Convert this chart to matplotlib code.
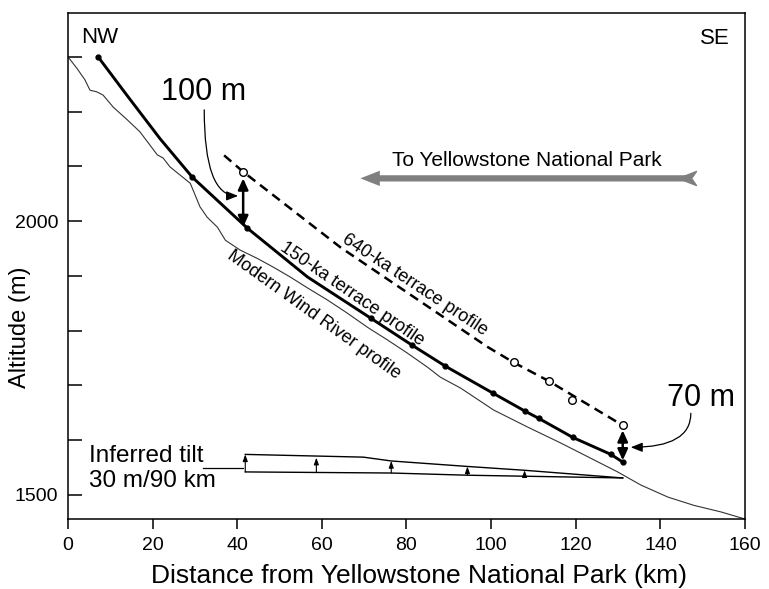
import numpy as np
import matplotlib.pyplot as plt

plt.rcParams['font.family'] = ['Liberation Sans', 'DejaVu Sans']

# modern Wind River long profile (distance km, altitude m)
river_km = [0.0, 2.1, 4.0, 5.2, 6.8, 8.3, 10.7, 14.0, 17.0, 21.1, 22.5, 24.1,
            28.9, 31.2, 32.9, 35.3, 37.2, 40.7, 44.7, 48.5, 52.5, 56.6, 61.3,
            66.0, 70.8, 75.5, 80.2, 85.0, 88.0, 92.8, 100.6, 108.6, 116.4,
            124.3, 129.9, 135.4, 141.8, 147.9, 154.3, 160.0]
river_alt = [2300, 2279, 2258, 2239, 2236, 2230, 2208, 2185, 2163, 2121, 2115,
             2099, 2069, 2026, 2007, 1989, 1965, 1947, 1932, 1916, 1898, 1878,
             1856, 1832, 1806, 1783, 1759, 1733, 1715, 1695, 1655, 1624, 1595,
             1564, 1542, 1518, 1496, 1481, 1469, 1456]

# 150-ka terrace profile and its sample sites
ka150_km = [7.1, 14.0, 21.8, 29.4, 42.4, 56.6, 71.5, 81.2, 89.2, 100.4,
            108.0, 111.2, 119.3, 128.3, 131.1]
ka150_alt = [2300, 2229, 2150, 2080, 1987, 1898, 1823, 1774, 1735, 1686,
             1653, 1640, 1605, 1574, 1560]
ka150_site_km = [7.1, 29.4, 42.4, 71.5, 81.2, 89.2, 100.4, 108.0, 111.2,
                 119.3, 128.3, 131.1]
ka150_site_alt = [2300, 2080, 1987, 1823, 1774, 1735, 1686, 1653, 1640,
                  1605, 1574, 1560]

# 640-ka terrace profile and its sample sites
ka640_km = [36.9, 41.4, 64.4, 99.2, 105.3, 113.6, 131.1]
ka640_alt = [2120, 2090, 1952, 1770, 1742, 1708, 1627]
ka640_site_km = [41.4, 105.3, 113.6, 119.1, 131.1]
ka640_site_alt = [2090, 1742, 1708, 1673, 1627]

# inferred tilt sketch
tilt_top_km = [41.9, 69.8, 76.4, 94.4, 107.9, 131.1]
tilt_top_alt = [1574, 1569, 1562, 1552, 1545, 1531]
tilt_base_km = [41.9, 76.4, 94.4, 131.1]
tilt_base_alt = [1542, 1540, 1536, 1531]
tilt_arrow_km = [41.9, 58.7, 76.4, 94.4, 107.9]
tilt_arrow_base = [1542, 1541, 1540, 1537, 1535]
tilt_arrow_top = [1574, 1568, 1562, 1552, 1545]

fig = plt.figure(figsize=(7.69, 5.89), dpi=100)
ax = fig.add_axes([0.0884, 0.1188, 0.8804, 0.8592])

ax.plot(river_km, river_alt, color='#333333', lw=0.8)
ax.plot(ka150_km, ka150_alt, color='black', lw=2.1)
ax.plot(ka150_site_km, ka150_site_alt, 'o', color='black', ms=3.5, ls='none')
ax.plot(ka640_km, ka640_alt, color='black', lw=1.8, ls=(0, (3.8, 2.4)))
ax.plot(ka640_site_km, ka640_site_alt, 'o', mfc='white', mec='black', mew=1.0,
        ms=5.5, ls='none')

# tilt sketch
ax.plot(tilt_top_km, tilt_top_alt, color='black', lw=1.0)
ax.plot(tilt_base_km, tilt_base_alt, color='black', lw=1.0)
for x, b, t in zip(tilt_arrow_km, tilt_arrow_base, tilt_arrow_top):
    ax.annotate('', xy=(x, t), xytext=(x, b),
                arrowprops=dict(arrowstyle='-|>,head_length=0.5,head_width=0.18',
                                lw=0.8, color='black', shrinkA=0, shrinkB=0,
                                mutation_scale=8))
ax.plot([32.0, 41.4], [1549, 1549], color='black', lw=0.9)
ax.text(5.0, 1571, 'Inferred tilt', fontsize=17.5, ha='left', va='center')
ax.text(5.0, 1525, '30 m/90 km', fontsize=17.5, ha='left', va='center')

# height differences between the terraces
dbl = dict(arrowstyle='<|-|>,head_length=0.55,head_width=0.25', lw=1.8,
           color='black', shrinkA=0, shrinkB=0, mutation_scale=12)
ax.annotate('', xy=(41.4, 2078), xytext=(41.4, 1989), arrowprops=dbl)
ax.annotate('', xy=(131.1, 1618), xytext=(131.1, 1563), arrowprops=dbl)

lead = dict(arrowstyle='-|>,head_length=0.5,head_width=0.2', lw=0.9,
            color='black', shrinkA=0, shrinkB=0, mutation_scale=14,
            connectionstyle='angle3,angleA=90,angleB=0')
ax.text(32.0, 2235, '100 m', fontsize=22, ha='center', va='center')
ax.annotate('', xy=(40.2, 2046), xytext=(32.2, 2203), arrowprops=lead)
ax.text(149.6, 1677, '70 m', fontsize=22, ha='center', va='center')
ax.annotate('', xy=(133.0, 1587), xytext=(147.2, 1649), arrowprops=lead)

# profile labels
ax.text(81.9, 1883, '640-ka terrace profile', fontsize=13, rotation=-33.5,
        ha='center', va='center', rotation_mode='anchor')
ax.text(67.1, 1867, '150-ka terrace profile', fontsize=13, rotation=-34.4,
        ha='center', va='center', rotation_mode='anchor')
ax.text(58.1, 1828, 'Modern Wind River profile', fontsize=13, rotation=-35.6,
        ha='center', va='center', rotation_mode='anchor')

# direction arrow
ax.annotate('', xy=(69.1, 2078), xytext=(146.0, 2078),
            arrowprops=dict(arrowstyle='simple,head_length=1.4,head_width=1.1,tail_width=0.45',
                            color='#7f7f7f', lw=0, shrinkA=0, shrinkB=0,
                            mutation_scale=10))
fletch = [(-1, 0), (1, 0.78), (0.45, 0), (1, -0.78), (-1, 0)]
ax.plot([146.3], [2078], marker=fletch, ms=13, color='#7f7f7f', ls='none')
ax.text(108.5, 2110, 'To Yellowstone National Park', fontsize=15,
        ha='center', va='center')

ax.text(7.6, 2336, 'NW', fontsize=16, ha='center', va='center')
ax.text(156.4, 2333, 'SE', fontsize=16, ha='right', va='center')

ax.set_xlim(0, 160)
ax.set_ylim(1456, 2380)
ax.set_xticks(np.arange(0, 161, 20))
ax.set_yticks([1500, 2000])
ax.set_yticks(np.arange(1600, 2301, 100), minor=True)
ax.yaxis.set_minor_formatter(plt.NullFormatter())
ax.tick_params(axis='x', direction='out', length=7, width=1.1, labelsize=14, pad=6)
ax.tick_params(axis='y', which='both', direction='in', length=10, width=1.1,
               labelsize=14, pad=7)
for s in ax.spines.values():
    s.set_linewidth(1.1)

ax.set_xlabel('Distance from Yellowstone National Park (km)', fontsize=19)
ax.xaxis.set_label_coords(0.519, -0.088)
ax.set_ylabel('Altitude (m)', fontsize=17)
ax.yaxis.set_label_coords(-0.054, 0.379)

fig.savefig('out.png', dpi=100)
